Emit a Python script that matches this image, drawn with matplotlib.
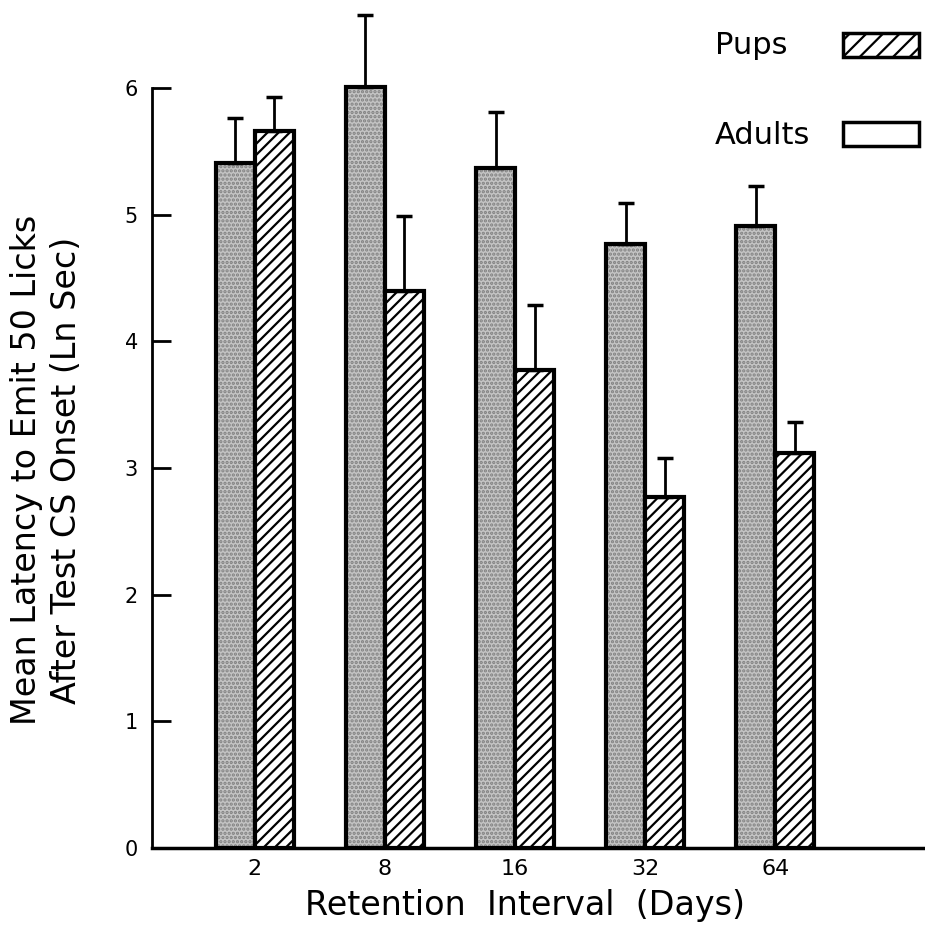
import numpy as np
import matplotlib.pyplot as plt
from matplotlib.patches import Rectangle

plt.rcParams['font.family'] = ['DejaVu Sans']
plt.rcParams['hatch.linewidth'] = 1.6

dias = ['2', '8', '16', '32', '64']
adultos = [5.41, 6.01, 5.37, 4.77, 4.91]
adultos_err = [0.35, 0.57, 0.44, 0.32, 0.32]
crias = [5.66, 4.40, 3.77, 2.77, 3.12]
crias_err = [0.27, 0.59, 0.52, 0.31, 0.24]

x = np.arange(len(dias))
ancho = 0.3

fig = plt.figure(figsize=(9.25, 9.41), dpi=100)
ax = fig.add_axes([152 / 925, 93 / 941, 773 / 925, 848 / 941])

# adultos: fondo gris punteado y contorno negro
ax.bar(x - ancho / 2, adultos, ancho, color='#c4c4c4', hatch='....',
       edgecolor='#808080', linewidth=0)
ax.bar(x - ancho / 2, adultos, ancho, fill=False, edgecolor='black', linewidth=3)
ax.bar(x + ancho / 2, crias, ancho, color='white', hatch='///',
       edgecolor='black', linewidth=3)

ax.errorbar(x - ancho / 2, adultos, yerr=[np.zeros(5), adultos_err], fmt='none',
            ecolor='black', elinewidth=2, capsize=5.5, capthick=2.5)
ax.errorbar(x + ancho / 2, crias, yerr=[np.zeros(5), crias_err], fmt='none',
            ecolor='black', elinewidth=2, capsize=5.5, capthick=2.5)

ax.set_xlim(-0.79, 5.15)
ax.set_ylim(0, 848 / 126.67)
ax.spines['top'].set_visible(False)
ax.spines['right'].set_visible(False)
ax.spines['left'].set_bounds(0, 6)
ax.spines['left'].set_linewidth(2)
ax.spines['bottom'].set_linewidth(2.5)
ax.set_yticks(range(7))
ax.set_xticks(x)
ax.set_xticklabels(dias)
ax.tick_params(axis='y', direction='in', length=14, width=2, labelsize=15, pad=10)
ax.tick_params(axis='x', length=0, labelsize=16, pad=8)

fig.text(525 / 925, 1 - 905 / 941, 'Retention  Interval  (Days)', fontsize=24,
         ha='center', va='center')
fig.text(27 / 925, 1 - 470 / 941, 'Mean Latency to Emit 50 Licks', rotation=90,
         fontsize=24, ha='center', va='center')
fig.text(67 / 925, 1 - 470 / 941, 'After Test CS Onset (Ln Sec)', rotation=90,
         fontsize=24, ha='center', va='center')

# leyenda
fig.text(715 / 925, 1 - 45 / 941, 'Pups', fontsize=22, ha='left', va='center')
fig.text(715 / 925, 1 - 135 / 941, 'Adults', fontsize=22, ha='left', va='center')
fig.patches.append(Rectangle((843 / 925, 1 - 57 / 941), 76 / 925, 24 / 941,
                             transform=fig.transFigure, facecolor='white',
                             edgecolor='black', hatch='//', linewidth=2.5))
fig.patches.append(Rectangle((843 / 925, 1 - 146 / 941), 76 / 925, 24 / 941,
                             transform=fig.transFigure, facecolor='white',
                             edgecolor='black', linewidth=2.5))

fig.savefig('out.png', dpi=100)
